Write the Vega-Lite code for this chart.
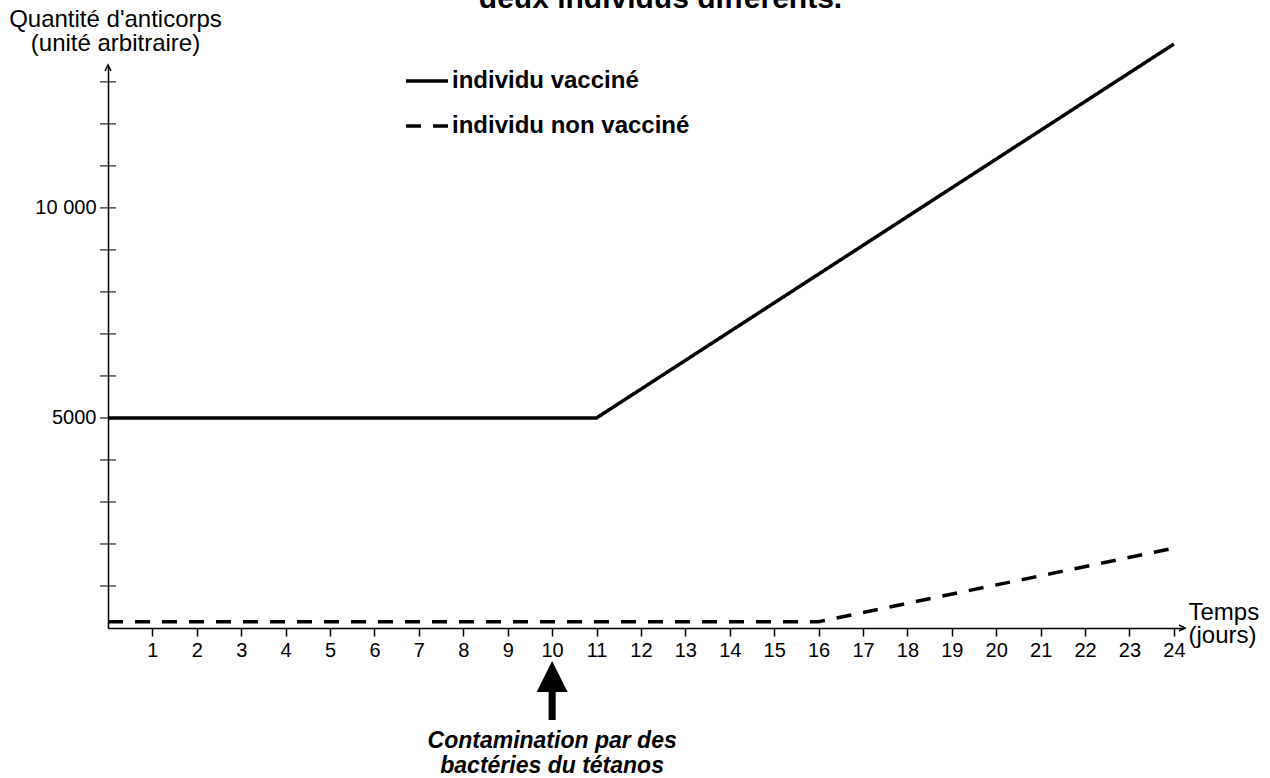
{
  "$schema": "https://vega.github.io/schema/vega-lite/v6.json",
  "width": 1077,
  "height": 563,
  "autosize": {"type": "none"},
  "padding": {"left": 108, "top": 65, "right": 85, "bottom": 150},
  "background": "white",
  "config": {
    "view": {"stroke": null},
    "font": "Liberation Sans",
    "axis": {"domainColor": "black", "domainWidth": 1.5, "tickColor": "black", "labelColor": "black", "titleColor": "black", "grid": false}
  },
  "title": {"text": "deux individus différents.", "fontSize": 30, "fontWeight": "bold", "font": "Liberation Sans", "anchor": "middle", "dx": 14, "dy": 31, "baseline": "alphabetic", "offset": 0, "color": "black"},
  "datasets": {
    "courbes": [
      {"jour": 0, "anticorps": 5000, "individu": "individu vacciné"},
      {"jour": 11, "anticorps": 5000, "individu": "individu vacciné"},
      {"jour": 24, "anticorps": 13900, "individu": "individu vacciné"},
      {"jour": 0, "anticorps": 150, "individu": "individu non vacciné"},
      {"jour": 16, "anticorps": 150, "individu": "individu non vacciné"},
      {"jour": 24, "anticorps": 1900, "individu": "individu non vacciné"}
    ],
    "graduations": [
      {"v": 1000}, {"v": 2000}, {"v": 3000}, {"v": 4000}, {"v": 5000}, {"v": 6000}, {"v": 7000},
      {"v": 8000}, {"v": 9000}, {"v": 10000}, {"v": 11000}, {"v": 12000}, {"v": 13000}
    ],
    "evenement": [
      {"jour": 10, "texte": "Contamination par des\nbactéries du tétanos"}
    ]
  },
  "layer": [
    {
      "data": {"name": "courbes"},
      "mark": {"type": "line", "color": "black", "strokeWidth": 3.5},
      "encoding": {
        "x": {
          "field": "jour", "type": "quantitative",
          "scale": {"domain": [0, 24.25], "nice": false, "zero": false},
          "axis": {
            "values": [1, 2, 3, 4, 5, 6, 7, 8, 9, 10, 11, 12, 13, 14, 15, 16, 17, 18, 19, 20, 21, 22, 23, 24],
            "tickSize": 8, "tickWidth": 1.5, "labelFontSize": 20, "labelPadding": 4,
            "labelFlush": false, "labelOverlap": false,
            "title": ["Temps", "(jours)"], "titleFontSize": 24, "titleFontWeight": "normal",
            "titleAngle": 0, "titleAlign": "left", "titleBaseline": "alphabetic",
            "titleX": 1080, "titleY": -9, "titleLineHeight": 23
          }
        },
        "y": {
          "field": "anticorps", "type": "quantitative",
          "scale": {"domain": [0, 13400], "nice": false, "zero": false},
          "axis": {
            "values": [5000, 10000], "ticks": false,
            "labelExpr": "datum.value == 10000 ? '10 000' : '5000'",
            "labelFontSize": 20, "labelPadding": 12,
            "title": ["Quantité d'anticorps", "(unité arbitraire)"], "titleFontSize": 24, "titleFontWeight": "normal",
            "titleAngle": 0, "titleAlign": "center", "titleBaseline": "alphabetic",
            "titleX": 7, "titleY": -39, "titleLineHeight": 24
          }
        },
        "strokeDash": {
          "field": "individu", "type": "nominal",
          "scale": {"domain": ["individu vacciné", "individu non vacciné"], "range": [[1, 0], [15, 12]]},
          "legend": {
            "title": null, "orient": "none", "legendX": 296, "legendY": -7,
            "symbolType": "stroke", "symbolSize": 1764, "symbolStrokeWidth": 3.5, "symbolStrokeColor": "black",
            "labelFontSize": 24, "labelFontWeight": "bold", "labelColor": "black", "labelOffset": 2, "labelLimit": 0,
            "rowPadding": 10, "padding": 0
          }
        }
      }
    },
    {
      "data": {"name": "graduations"},
      "mark": {"type": "tick", "orient": "horizontal", "size": 16, "thickness": 1.5, "color": "black"},
      "encoding": {
        "x": {"datum": 0, "type": "quantitative"},
        "y": {"field": "v", "type": "quantitative"}
      }
    },
    {
      "data": {"values": [{}]},
      "mark": {"type": "point", "shape": "M-0.5,1L0,0L0.5,1", "size": 144, "filled": false, "stroke": "black", "strokeWidth": 1.5, "opacity": 1},
      "encoding": {
        "x": {"datum": 0, "type": "quantitative"},
        "y": {"datum": 13400, "type": "quantitative"}
      }
    },
    {
      "data": {"values": [{}]},
      "mark": {"type": "point", "shape": "M-1,-0.5L0,0L-1,0.5", "size": 144, "filled": false, "stroke": "black", "strokeWidth": 1.5, "opacity": 1},
      "encoding": {
        "x": {"datum": 24.25, "type": "quantitative"},
        "y": {"datum": 0, "type": "quantitative"}
      }
    },
    {
      "data": {"name": "evenement"},
      "mark": {"type": "point", "shape": "M0,-1L0.525,0.05L0.12,0.05L0.12,1L-0.12,1L-0.12,0.05L-0.525,0.05Z", "size": 3481, "filled": true, "color": "black", "opacity": 1},
      "encoding": {
        "x": {"field": "jour", "type": "quantitative"},
        "y": {"datum": -1488, "type": "quantitative"}
      }
    },
    {
      "data": {"name": "evenement"},
      "mark": {"type": "text", "lineBreak": "\n", "fontSize": 23, "fontWeight": "bold", "fontStyle": "italic", "lineHeight": 25, "baseline": "middle", "align": "center", "color": "black"},
      "encoding": {
        "x": {"field": "jour", "type": "quantitative"},
        "y": {"datum": -2700, "type": "quantitative"},
        "text": {"field": "texte", "type": "nominal"}
      }
    }
  ]
}
